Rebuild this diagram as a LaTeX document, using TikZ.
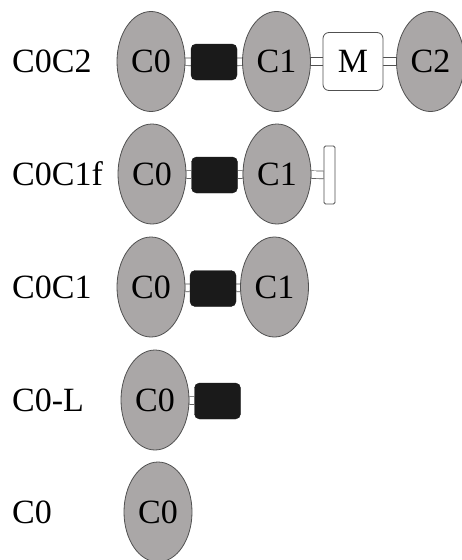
\documentclass[tikz,border=0pt]{standalone}
\usepackage{fontspec}
\setmainfont{Liberation Serif}
\usetikzlibrary{shapes.geometric,backgrounds}
\definecolor{cellgray}{RGB}{170,167,167}
\definecolor{edgegray}{RGB}{80,80,80}
\definecolor{boxblack}{RGB}{26,26,26}
\begin{document}
\begin{tikzpicture}[x=1pt,y=-1pt,
  every node/.style={font=\fontsize{34}{40}\selectfont},
  cell/.style={ellipse, draw=edgegray, line width=0.8pt, fill=cellgray,
    minimum width=68pt, minimum height=100pt, inner sep=0pt},
  linker/.style={draw=boxblack, fill=boxblack, rounded corners=5pt,
    minimum width=46pt, minimum height=36pt, inner sep=0pt},
  mbox/.style={draw=edgegray, fill=white, rounded corners=6pt,
    minimum width=60pt, minimum height=58pt, inner sep=0pt, line width=0.8pt},
  endbar/.style={draw=edgegray, fill=white, rounded corners=1.5pt,
    minimum width=11pt, minimum height=58pt, inner sep=0pt, line width=0.8pt},
  bond/.style={draw=edgegray, line width=0.7pt, double=white, double distance=7pt},
  rowlabel/.style={anchor=base west, inner sep=0pt}]
\useasboundingbox (0,0) rectangle (461,560);

% row 1: C0C2
\node[rowlabel] (l1) at (12,72) {C0C2};
\node[cell]   (a0) at (151,61.5) {C0};
\node[linker] (ak) at (214,62) {};
\node[cell]   (a1) at (276.5,61.5) {C1};
\node[mbox]   (am) at (353,61.5) {M};
\node[cell]   (a2) at (430.5,61.5) {C2};

% row 2: C0C1f
\node[rowlabel] (l2) at (12,185) {C0C1f};
\node[cell]   (b0) at (152,174) {C0};
\node[linker] (bk) at (214.5,175) {};
\node[cell]   (b1) at (277,174) {C1};
\node[endbar] (bf) at (329.5,175) {};

% row 3: C0C1
\node[rowlabel] (l3) at (12,298) {C0C1};
\node[cell]   (c0) at (151,287) {C0};
\node[linker] (ck) at (213,288.5) {};
\node[cell]   (c1) at (274.5,287) {C1};

% row 4: C0-L
\node[rowlabel] (l4) at (12,411) {C0-L};
\node[cell]   (d0) at (155,400) {C0};
\node[linker] (dk) at (217.5,401) {};

% row 5: C0
\node[rowlabel] (l5) at (12,523) {C0};
\node[cell]   (e0) at (158,512) {C0};

% double bonds between the parts, drawn beneath the shapes
\begin{scope}[on background layer]
  \draw[bond] (a0) -- (ak);
  \draw[bond] (ak) -- (a1);
  \draw[bond] (a1) -- (am);
  \draw[bond] (am) -- (a2);
  \draw[bond] (b0) -- (bk);
  \draw[bond] (bk) -- (b1);
  \draw[bond] (b1) -- (bf);
  \draw[bond] (c0) -- (ck);
  \draw[bond] (ck) -- (c1);
  \draw[bond] (d0) -- (dk);
\end{scope}
\end{tikzpicture}
\end{document}
